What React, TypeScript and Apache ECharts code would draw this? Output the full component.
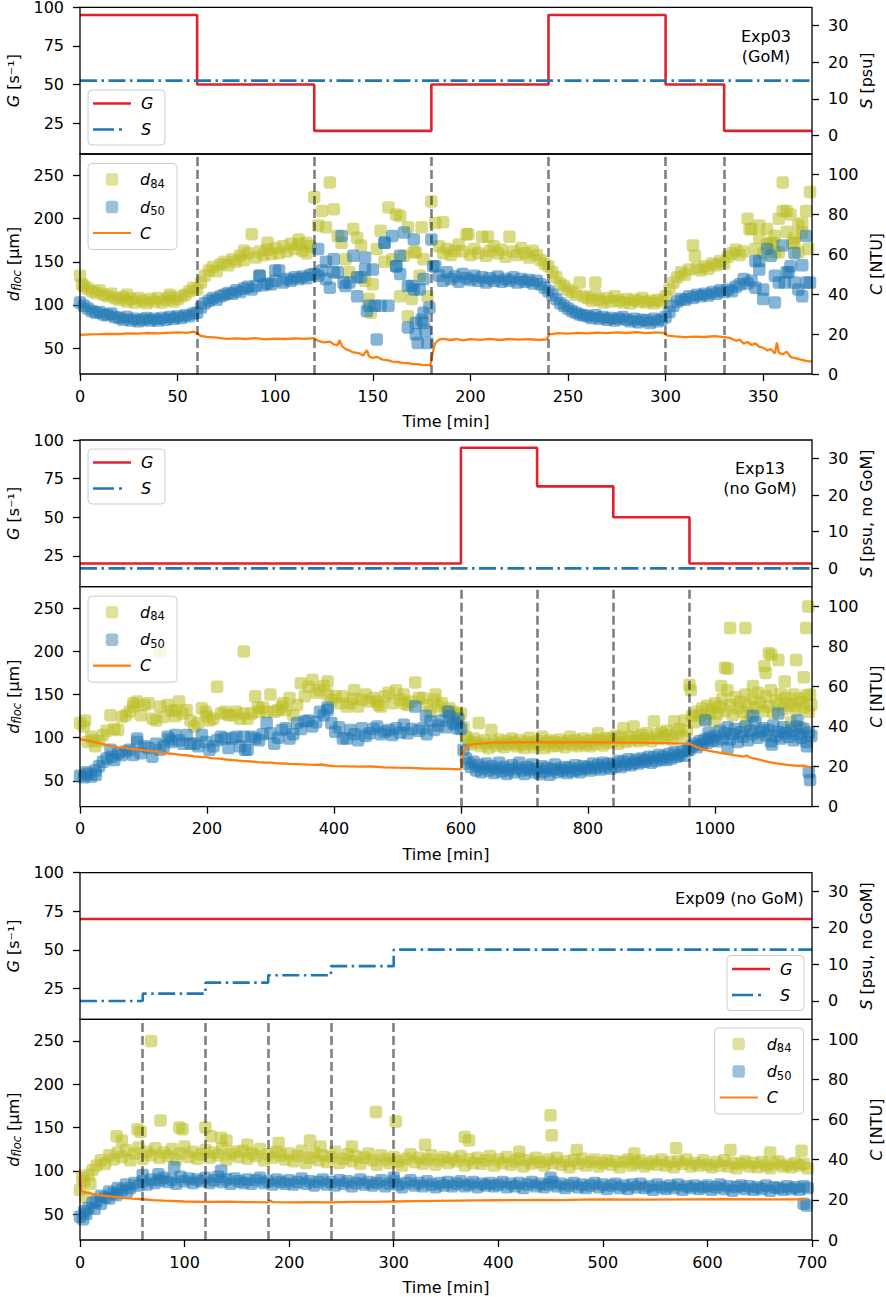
import React, { useEffect, useRef } from "react";
import * as echarts from "echarts";

const FONT = "DejaVu Sans";

// ---------------- Exp03 (GoM) ----------------
const exp03G: [number, number][] = [[0, 95], [60, 50], [120, 20], [180, 50], [240, 95], [300, 50], [330, 20], [375, 20]];
const exp03S: [number, number][] = [[0, 15], [375, 15]];
const exp03Start = 0;
const exp03Step = 2;
const exp03D84 = [
  134, 122, 119, 116, 114, 117, 112, 110, 113, 108,
  106, 109, 104, 107, 103, 108, 105, 102, 107, 104,
  108, 103, 106, 109, 104, 107, 110, 112, 116, 120,
  118, 126, 134, 140, 144, 139, 147, 150, 146, 153,
  150, 157, 152, 160, 182, 155, 162, 158, 164, 159,
  166, 160, 168, 162, 171, 165, 170, 163, 172, 168,
  225, 192, 209, 190, 242, 211, 180, 172, 153, 138,
  188, 178, 169, 128, 107, 124, 165, 186, 150, 213,
  153, 205, 110, 157, 190, 107, 161, 134, 153, 110,
  220, 195, 168, 160, 165, 158, 163, 170, 162, 182,
  158, 165, 160, 179, 157, 163, 168, 160, 164, 156,
  179, 162, 158, 166, 160, 155, 163, 158, 152, 148,
  145, 138, 132, 125, 122, 118, 115, 112, 126, 110,
  108, 105, 112, 106, 103, 108, 104, 110, 105, 103,
  107, 102, 106, 104, 108, 103, 105, 102, 106, 104,
  110, 118, 126, 132, 138, 135, 141, 169, 143, 140,
  145, 142, 148, 146, 151, 148, 156, 160, 164, 158,
  162, 200, 188, 165, 192, 160, 188, 172, 180, 161,
  242, 209, 205, 172, 192, 184, 209, 231,
];
const exp03D84Extra: [number, number][] = [
  [1, 124], [24, 112], [46, 112], [84, 163], [96, 172], [112, 176], [116, 160],
  [149, 91], [164, 203], [168, 87], [171, 161], [175, 190], [186, 196], [199, 182],
  [209, 179], [264, 126], [315, 157], [343, 188], [348, 178], [352, 170], [355, 172],
  [356, 161], [358, 200], [360, 209], [362, 185], [365, 172], [366, 178], [368, 161],
  [370, 195], [373, 165],
];
const exp03D50 = [
  103, 99, 96, 93, 91, 92, 89, 88, 90, 86,
  85, 83, 86, 82, 84, 81, 83, 85, 82, 84,
  82, 85, 83, 86, 84, 87, 85, 88, 87, 90,
  91, 97, 102, 105, 108, 106, 110, 112, 114, 113,
  117, 115, 119, 121, 118, 122, 134, 123, 125, 124,
  128, 140, 126, 130, 128, 132, 130, 133, 131, 135,
  136, 165, 140, 130, 120, 153, 138, 180, 122, 126,
  157, 110, 132, 155, 99, 141, 60, 99, 172, 99,
  180, 145, 157, 184, 74, 122, 66, 118, 79, 56,
  176, 145, 134, 128, 138, 130, 133, 127, 136, 131,
  129, 134, 128, 132, 126, 131, 128, 133, 127, 130,
  128, 132, 126, 130, 127, 129, 125, 128, 124, 120,
  116, 112, 107, 102, 99, 96, 93, 91, 89, 88,
  87, 85, 88, 84, 86, 83, 85, 82, 84, 86,
  83, 81, 84, 80, 83, 82, 79, 84, 81, 83,
  86, 92, 99, 104, 107, 106, 110, 108, 112, 110,
  113, 111, 115, 113, 117, 115, 118, 116, 121, 124,
  130, 125, 128, 151, 141, 118, 165, 157, 134, 126,
  169, 138, 145, 126, 118, 110, 180, 126,
];
const exp03D50Extra: [number, number][] = [
  [92, 134], [100, 140], [122, 134], [126, 150], [130, 138], [135, 126], [142, 132],
  [146, 141], [147, 93], [151, 99], [156, 172], [162, 145], [164, 136], [168, 122],
  [171, 118], [171, 176], [172, 79], [173, 56], [175, 83], [176, 130], [176, 91],
  [177, 70], [179, 97], [181, 145], [346, 120], [348, 151], [350, 107], [356, 103],
  [361, 126], [363, 138], [366, 160], [370, 146], [372, 126],
];
const exp03C: [number, number][] = [
  [0, 19.6], [5, 19.8], [10, 19.9], [15, 20.1], [20, 20.0], [25, 20.3], [30, 20.2], [35, 20.5],
  [40, 20.3], [45, 20.6], [50, 20.8], [55, 20.6], [58, 21.2], [60, 20.4], [62, 19.0], [65, 18.6],
  [70, 18.2], [75, 17.6], [80, 17.8], [85, 17.5], [90, 17.9], [95, 17.3], [100, 17.7], [105, 17.5],
  [110, 17.8], [115, 17.6], [120, 17.9], [122, 16.6], [125, 15.8], [128, 16.2], [130, 14.8],
  [132, 14.5], [133, 16.9], [134, 14.2], [136, 12.5], [138, 11.8], [140, 10.8], [143, 10.4],
  [145, 9.2], [147, 11.9], [148, 8.9], [150, 8.0], [152, 8.6], [155, 7.2], [158, 6.8], [160, 6.2],
  [163, 6.0], [165, 5.6], [168, 5.4], [170, 5.1], [173, 4.9], [175, 4.6], [178, 4.4], [179.5, 4.3],
  [180.5, 10], [182, 15.5], [184, 17.2], [186, 17.6], [190, 17.0], [193, 17.5], [196, 16.8],
  [200, 17.4], [205, 17.1], [210, 17.6], [215, 17.0], [220, 17.5], [225, 17.2], [230, 17.4],
  [235, 17.0], [239, 17.3], [240.5, 19.8], [245, 20.4], [250, 20.2], [255, 20.6], [260, 20.3],
  [265, 20.7], [270, 20.4], [275, 20.8], [280, 20.5], [285, 20.9], [290, 20.4], [295, 20.8],
  [299, 20.6], [301, 19.2], [305, 18.8], [310, 18.4], [315, 18.7], [320, 18.5], [325, 18.9],
  [330, 18.4], [333, 18.0], [336, 16.6], [338, 17.2], [340, 15.2], [342, 16.0], [344, 14.5],
  [346, 15.3], [348, 13.6], [350, 13.2], [352, 11.8], [354, 12.4], [356, 10.2], [357, 15.8],
  [358, 10.6], [360, 9.8], [362, 11.2], [364, 8.6], [366, 8.0], [368, 7.6], [370, 7.0],
  [372, 6.6], [375, 6.2],
];
const exp03Lines = [60, 120, 180, 240, 300, 330];
const exp03Ticks = [0, 50, 100, 150, 200, 250, 300, 350];

// ---------------- Exp13 (no GoM) ----------------
const exp13G: [number, number][] = [[0, 20], [600, 95], [720, 70], [840, 50], [960, 20], [1153, 20]];
const exp13S: [number, number][] = [[0, 0], [1153, 0]];
const exp13AStart = 0;
const exp13AStep = 6;
const exp13BStart = 600;
const exp13BStep = 4;
const exp13D84A = [
  117, 113, 95, 101, 90, 96, 103, 108, 126, 110,
  109, 124, 126, 130, 136, 142, 126, 138, 140, 122,
  120, 136, 124, 138, 131, 132, 142, 128, 132, 120,
  113, 117, 134, 130, 120, 122, 159, 128, 130, 126,
  126, 130, 122, 128, 122, 128, 148, 130, 135, 130,
  150, 130, 132, 136, 132, 146, 126, 138, 163, 148,
  159, 167, 152, 155, 160, 165, 144, 148, 140, 148,
  136, 140, 155, 136, 144, 150, 142, 146, 142, 136,
  148, 152, 140, 155, 144, 150, 138, 142, 164, 146,
  146, 138, 130, 144, 136, 140, 131, 134, 130, 127,
];
const exp13D84B = [
  128, 112, 101, 96, 92, 99, 94, 117, 90, 97,
  93, 88, 109, 95, 91, 98, 93, 89, 96, 92,
  99, 94, 90, 97, 92, 88, 95, 100, 93, 89,
  96, 92, 101, 88, 94, 97, 90, 95, 91, 98,
  93, 89, 96, 101, 92, 97, 90, 94, 99, 92,
  96, 90, 98, 93, 105, 97, 91, 99, 94, 100,
  96, 102, 93, 99, 111, 95, 101, 97, 113, 100,
  96, 103, 98, 105, 100, 96, 119, 104, 99, 106,
  101, 108, 103, 98, 119, 105, 110, 102, 120, 108,
  161, 125, 118, 130, 126, 134, 122, 137, 128, 133,
  140, 128, 136, 145, 131, 155, 138, 126, 147, 134,
  142, 130, 150, 137, 127, 145, 135, 152, 140, 131,
  148, 136, 155, 129, 143, 138, 151, 133, 146, 140,
  137, 150, 132, 145, 141, 135, 149, 130, 138,
];
const exp13D84Extra: [number, number][] = [
  [8, 120], [20, 97], [84, 140], [126, 200], [150, 125], [200, 125], [258, 200], [280, 135],
  [320, 140], [390, 150], [430, 145], [470, 138], [510, 140], [560, 150],
  [962, 155], [1000, 118], [1010, 160], [1016, 181], [1020, 180], [1024, 227], [1048, 227],
  [1050, 118], [1060, 160], [1078, 183], [1080, 175], [1085, 198], [1089, 196], [1100, 190],
  [1110, 165], [1120, 118], [1128, 190], [1135, 112], [1140, 170], [1144, 227], [1147, 252],
  [1150, 150],
];
const exp13D50A = [
  56, 54, 58, 55, 62, 67, 72, 76, 86, 74,
  82, 80, 84, 86, 80, 99, 82, 90, 88, 78,
  93, 86, 90, 101, 95, 103, 97, 93, 103, 93,
  93, 90, 103, 95, 86, 90, 97, 101, 99, 88,
  99, 101, 90, 101, 86, 101, 99, 97, 104, 117,
  105, 93, 100, 109, 111, 99, 104, 117, 110, 119,
  120, 113, 118, 130, 126, 132, 117, 107, 112, 99,
  99, 109, 104, 97, 111, 102, 105, 110, 113, 104,
  107, 109, 103, 111, 106, 115, 105, 110, 136, 108,
  111, 104, 119, 109, 114, 120, 112, 125, 116, 111,
];
const exp13D50B = [
  110, 86, 76, 70, 66, 72, 62, 68, 60, 65,
  70, 62, 67, 59, 64, 71, 61, 66, 58, 63,
  68, 60, 65, 71, 62, 58, 66, 63, 69, 60,
  64, 58, 67, 61, 65, 57, 63, 69, 60, 64,
  62, 66, 59, 65, 61, 68, 63, 60, 67, 64,
  66, 62, 70, 65, 68, 63, 71, 66, 69, 64,
  70, 67, 73, 66, 72, 69, 75, 68, 71, 74,
  70, 76, 72, 74, 78, 71, 77, 73, 80, 75,
  78, 74, 81, 76, 83, 78, 80, 84, 79, 85,
  86, 90, 93, 89, 96, 92, 98, 94, 100, 97,
  102, 96, 108, 99, 105, 112, 98, 104, 110, 95,
  106, 101, 113, 97, 108, 104, 118, 100, 107, 111,
  103, 109, 96, 114, 102, 107, 99, 112, 105, 101,
  108, 97, 113, 104, 100, 110, 95, 106, 102,
];
const exp13D50Extra: [number, number][] = [
  [10, 60], [25, 57], [50, 78], [90, 95], [140, 98], [260, 86], [390, 135], [545, 125],
  [580, 130], [590, 118], [596, 122], [985, 120], [990, 105], [1020, 88], [1060, 125],
  [1090, 92], [1100, 128], [1130, 120], [1145, 90], [1148, 60], [1150, 51],
];
const exp13C: [number, number][] = [
  [0, 33.8], [10, 33.2], [20, 32.5], [30, 31.8], [40, 31.0], [50, 30.3], [60, 29.8], [70, 29.5],
  [80, 28.9], [90, 28.6], [100, 28.3], [110, 27.8], [120, 27.6], [130, 27.0], [140, 26.6],
  [150, 26.3], [160, 25.9], [170, 25.6], [180, 25.2], [190, 24.9], [200, 24.7], [210, 24.2],
  [220, 24.0], [230, 23.6], [240, 23.3], [250, 23.0], [260, 22.8], [270, 22.6], [280, 22.3],
  [290, 22.1], [300, 22.0], [310, 21.7], [320, 21.6], [330, 21.4], [340, 21.3], [350, 21.2],
  [360, 21.0], [370, 20.9], [380, 21.1], [390, 20.6], [400, 20.3], [420, 20.2], [440, 20.0],
  [460, 20.1], [480, 19.7], [500, 19.5], [520, 19.4], [540, 19.1], [560, 19.0], [580, 18.9],
  [600, 18.7], [602, 22], [604, 27.5], [608, 29.8], [612, 30.8], [620, 31.3], [635, 31.7],
  [650, 32.0], [680, 32.2], [720, 32.3], [760, 32.1], [800, 32.3], [840, 32.1], [880, 32.0],
  [920, 31.8], [955, 31.5], [962, 31.2], [970, 30.0], [980, 28.8], [990, 28.0], [1000, 27.4],
  [1015, 26.6], [1030, 25.8], [1045, 25.0], [1050, 25.6], [1055, 24.6], [1070, 23.5],
  [1085, 22.3], [1100, 21.5], [1115, 20.9], [1130, 20.4], [1140, 20.6], [1152, 19.6],
];
const exp13Lines = [600, 720, 840, 960];
const exp13Ticks = [0, 200, 400, 600, 800, 1000];

// ---------------- Exp09 (no GoM) ----------------
const exp09G: [number, number][] = [[0, 70], [700, 70]];
const exp09S: [number, number][] = [[0, 0], [60, 2], [120, 5], [180, 7], [240, 9.5], [300, 14], [700, 14]];
const exp09Start = 0;
const exp09Step = 4;
const exp09D84 = [
  78, 88, 95, 101, 106, 112, 108, 118, 113, 121,
  116, 124, 112, 120, 127, 114, 122, 118, 126, 115,
  121, 117, 125, 113, 120, 128, 116, 122, 114, 119,
  124, 115, 121, 118, 126, 113, 119, 122, 116, 123,
  114, 120, 117, 125, 112, 119, 115, 122, 118, 113,
  120, 111, 117, 123, 109, 115, 121, 112, 118, 110,
  116, 122, 109, 114, 119, 111, 117, 108, 115, 120,
  112, 107, 118, 113, 109, 116, 111, 106, 114, 119,
  110, 115, 108, 113, 118, 107, 112, 116, 109, 114,
  111, 117, 106, 113, 109, 115, 108, 112, 117, 106,
  113, 109, 116, 107, 111, 114, 105, 112, 108, 115,
  110, 106, 113, 109, 115, 107, 111, 104, 112, 108,
  114, 106, 110, 113, 105, 109, 112, 107, 111, 104,
  110, 113, 106, 109, 112, 105, 108, 111, 107, 113,
  106, 110, 104, 111, 108, 113, 105, 109, 106, 112,
  107, 104, 110, 106, 112, 105, 109, 103, 108, 111,
  105, 109, 104, 110, 106, 103, 108, 111, 105, 107,
  104, 109, 106, 108, 103,
];
const exp09D84Extra: [number, number][] = [
  [2, 92], [5, 70], [10, 85], [35, 140], [40, 135], [55, 148], [58, 145], [68, 250], [77, 158],
  [95, 150], [98, 148], [120, 150], [125, 140], [135, 138], [140, 135], [160, 130], [190, 132],
  [220, 135], [230, 128], [260, 128], [283, 168], [302, 157], [330, 130], [368, 139], [372, 135],
  [420, 122], [450, 164], [451, 141], [475, 124], [530, 120], [570, 126], [622, 124], [660, 121],
  [690, 123],
];
const exp09D50 = [
  47, 53, 57, 63, 65, 71, 69, 76, 74, 80,
  78, 84, 80, 86, 83, 88, 84, 90, 86, 89,
  92, 87, 90, 85, 93, 88, 91, 86, 90, 88,
  92, 86, 89, 93, 87, 90, 85, 91, 88, 86,
  90, 85, 89, 92, 86, 88, 84, 90, 87, 85,
  89, 84, 87, 91, 85, 88, 83, 87, 90, 84,
  87, 83, 89, 85, 88, 82, 86, 90, 84, 87,
  83, 86, 89, 82, 85, 88, 84, 81, 86, 89,
  83, 86, 82, 88, 84, 81, 86, 83, 87, 82,
  85, 88, 82, 84, 87, 81, 85, 83, 86, 82,
  84, 87, 81, 85, 82, 86, 80, 84, 87, 82,
  85, 81, 84, 87, 82, 85, 80, 83, 86, 81,
  84, 80, 83, 86, 81, 84, 79, 83, 85, 80,
  83, 79, 84, 81, 85, 80, 82, 78, 84, 81,
  79, 83, 80, 84, 78, 82, 80, 83, 79, 81,
  83, 78, 81, 84, 79, 82, 77, 81, 83, 79,
  82, 78, 81, 79, 83, 77, 81, 80, 78, 82,
  79, 81, 78, 82, 80,
];
const exp09D50Extra: [number, number][] = [
  [3, 44], [6, 50], [14, 56], [20, 62], [28, 68], [35, 72], [45, 76], [60, 95], [75, 96],
  [90, 104], [135, 100], [300, 92], [450, 92], [692, 62], [695, 60],
];
const exp09C: [number, number][] = [
  [0, 35], [0.8, 27], [1.5, 24.5], [3, 24], [6, 23.6], [10, 23.2], [15, 22.7], [20, 22.2],
  [30, 21.6], [40, 21.0], [50, 20.6], [60, 20.3], [70, 19.9], [80, 19.6], [100, 19.2],
  [120, 19.0], [140, 19.1], [160, 18.9], [180, 18.8], [182, 19.8], [184, 18.9], [200, 18.8],
  [220, 18.9], [240, 18.8], [260, 19.0], [280, 19.0], [300, 19.2], [320, 19.4], [340, 19.5],
  [360, 19.6], [380, 19.7], [400, 19.8], [420, 19.9], [440, 20.0], [460, 19.9], [480, 20.1],
  [500, 20.2], [540, 20.1], [580, 20.2], [620, 20.3], [660, 20.2], [695, 20.2],
];
const exp09Lines = [60, 120, 180, 240, 300];
const exp09Ticks = [0, 100, 200, 300, 400, 500, 600, 700];

// axis tick labels
const gTicks = [25, 50, 75, 100];
const sTicks = [0, 10, 20, 30];
const dTicks = [50, 100, 150, 200, 250];
const cTicks = [0, 20, 40, 60, 80, 100];

// ---------------- helpers ----------------
const reg = (start: number, step: number, vals: number[]): [number, number][] =>
  vals.map((v, i) => [start + i * step, v]);

const RED = "#e0202a";
const BLUE = "#1f77b4";
const OLIVE = "#bcbd22";
const ORANGE = "#ff7f0e";
const MSIZE = 12.5;
const MALPHA = 0.55;

const L = 80;
const W = 732;
const P = [
  { top: 7.3, h: 146.7 },
  { top: 154, h: 220 },
  { top: 440, h: 146.7 },
  { top: 586.7, h: 220 },
  { top: 872.7, h: 146.6 },
  { top: 1019.3, h: 220.7 },
];

const richBase = {
  i: { fontSize: 16, fontFamily: FONT, fill: "#000", fontStyle: "italic", lineHeight: 20 },
  n: { fontSize: 16, fontFamily: FONT, fill: "#000", lineHeight: 20 },
  s: { fontSize: 11.5, fontFamily: FONT, fill: "#000", lineHeight: 12, verticalAlign: "bottom" },
  si: { fontSize: 11.5, fontFamily: FONT, fill: "#000", fontStyle: "italic", lineHeight: 12, verticalAlign: "bottom" },
};

function richText(x: number, y: number, text: string, opts: any = {}) {
  return {
    type: "text",
    x,
    y,
    rotation: opts.rotation || 0,
    z: 120,
    silent: true,
    style: {
      text,
      rich: richBase,
      fontSize: 16,
      fontFamily: FONT,
      fill: "#000",
      align: opts.align || "center",
      verticalAlign: "middle",
      lineHeight: opts.lineHeight || 20,
    },
  };
}

function gsLegend(x: number, y: number) {
  return [
    { type: "rect", z: 110, silent: true, shape: { x, y, width: 77, height: 55, r: 4 }, style: { fill: "rgba(255,255,255,0.8)", stroke: "#cccccc", lineWidth: 1 } },
    { type: "line", z: 111, silent: true, shape: { x1: x + 5, y1: y + 13.5, x2: x + 43, y2: y + 13.5 }, style: { stroke: RED, lineWidth: 2.5 } },
    { type: "line", z: 111, silent: true, shape: { x1: x + 5, y1: y + 39.5, x2: x + 43, y2: y + 39.5 }, style: { stroke: BLUE, lineWidth: 2.5, lineDash: [21, 5, 3, 60] } },
    richText(x + 53, y + 13.5, "{i|G}", { align: "left" }),
    richText(x + 53, y + 39.5, "{i|S}", { align: "left" }),
  ];
}

function dLegend(x: number, y: number) {
  const hs = MSIZE / 2;
  return [
    { type: "rect", z: 110, silent: true, shape: { x, y, width: 89, height: 86, r: 4 }, style: { fill: "rgba(255,255,255,0.8)", stroke: "#cccccc", lineWidth: 1 } },
    { type: "rect", z: 111, silent: true, shape: { x: x + 24 - hs, y: y + 16 - hs, width: MSIZE, height: MSIZE, r: 3 }, style: { fill: OLIVE, opacity: 0.45 } },
    { type: "rect", z: 111, silent: true, shape: { x: x + 24 - hs, y: y + 43.5 - hs, width: MSIZE, height: MSIZE, r: 3 }, style: { fill: BLUE, opacity: 0.45 } },
    { type: "line", z: 111, silent: true, shape: { x1: x + 5, y1: y + 69.5, x2: x + 43, y2: y + 69.5 }, style: { stroke: ORANGE, lineWidth: 2.2 } },
    richText(x + 52, y + 16, "{i|d}{s|84}", { align: "left" }),
    richText(x + 52, y + 43.5, "{i|d}{s|50}", { align: "left" }),
    richText(x + 52, y + 69.5, "{i|C}", { align: "left" }),
  ];
}

function buildOption() {
  const exps = [
    {
      xmax: 375, ticks: exp03Ticks, G: exp03G, S: exp03S, lines: exp03Lines, C: exp03C,
      d84: reg(exp03Start, exp03Step, exp03D84).concat(exp03D84Extra),
      d50: reg(exp03Start, exp03Step, exp03D50).concat(exp03D50Extra),
    },
    {
      xmax: 1153, ticks: exp13Ticks, G: exp13G, S: exp13S, lines: exp13Lines, C: exp13C,
      d84: reg(exp13AStart, exp13AStep, exp13D84A).concat(reg(exp13BStart, exp13BStep, exp13D84B), exp13D84Extra),
      d50: reg(exp13AStart, exp13AStep, exp13D50A).concat(reg(exp13BStart, exp13BStep, exp13D50B), exp13D50Extra),
    },
    {
      xmax: 700, ticks: exp09Ticks, G: exp09G, S: exp09S, lines: exp09Lines, C: exp09C,
      d84: reg(exp09Start, exp09Step, exp09D84).concat(exp09D84Extra),
      d50: reg(exp09Start, exp09Step, exp09D50).concat(exp09D50Extra),
    },
  ];

  const tick = (vals: number[]) => ({ show: true, length: 7, lineStyle: { color: "#000", width: 1.3 }, customValues: vals });
  const label = (vals: number[], margin: number) => ({
    show: true, fontSize: 16, color: "#000", fontFamily: FONT, margin, lineHeight: 14,
    customValues: vals, formatter: (v: number) => String(v),
  });

  const grid = P.map((p) => ({ left: L, width: W, top: p.top, height: p.h, containLabel: false, outerBoundsMode: "none" }));

  const xAxis: any[] = [];
  const yAxis: any[] = [];
  const series: any[] = [];

  exps.forEach((e, k) => {
    const gTop = 2 * k;
    const gBot = 2 * k + 1;
    xAxis.push({ type: "value", gridIndex: gTop, min: 0, max: e.xmax, axisLine: { show: false }, axisTick: { show: false }, axisLabel: { show: false }, splitLine: { show: false } });
    xAxis.push({ type: "value", gridIndex: gBot, min: 0, max: e.xmax, axisLine: { show: false }, axisTick: tick(e.ticks), axisLabel: label(e.ticks, 15), splitLine: { show: false } });
    yAxis.push({ type: "value", gridIndex: gTop, position: "left", min: 5, max: 100, axisLine: { show: false }, axisTick: tick(gTicks), axisLabel: label(gTicks, 16), splitLine: { show: false } });
    yAxis.push({ type: "value", gridIndex: gTop, position: "right", min: -5, max: 35, axisLine: { show: false }, axisTick: tick(sTicks), axisLabel: label(sTicks, 16), splitLine: { show: false } });
    yAxis.push({ type: "value", gridIndex: gBot, position: "left", min: 20, max: 275, axisLine: { show: false }, axisTick: tick(dTicks), axisLabel: label(dTicks, 16), splitLine: { show: false } });
    yAxis.push({ type: "value", gridIndex: gBot, position: "right", min: 0, max: 110, axisLine: { show: false }, axisTick: tick(cTicks), axisLabel: label(cTicks, 16), splitLine: { show: false } });

    const yb = 4 * k;
    series.push({ type: "line", xAxisIndex: gTop, yAxisIndex: yb, data: e.G, step: "end", showSymbol: false, symbol: "none", lineStyle: { color: RED, width: 2.6 }, z: 3, silent: true });
    series.push({ type: "line", xAxisIndex: gTop, yAxisIndex: yb + 1, data: e.S, step: "end", showSymbol: false, symbol: "none", lineStyle: { color: BLUE, width: 2.6, type: [17, 4.5, 2.5, 4.5] }, z: 3, silent: true });
    series.push({ type: "scatter", xAxisIndex: gBot, yAxisIndex: yb + 2, data: e.d84, symbol: "roundRect", symbolSize: MSIZE, itemStyle: { color: OLIVE, opacity: MALPHA }, z: 2, silent: true });
    series.push({ type: "scatter", xAxisIndex: gBot, yAxisIndex: yb + 2, data: e.d50, symbol: "roundRect", symbolSize: MSIZE, itemStyle: { color: BLUE, opacity: MALPHA }, z: 2, silent: true });
    series.push({
      type: "line", xAxisIndex: gBot, yAxisIndex: yb + 2, data: [], z: 3, silent: true,
      markLine: {
        silent: true, symbol: ["none", "none"], label: { show: false }, animation: false,
        lineStyle: { color: "rgba(0,0,0,0.5)", width: 2.6, type: [9, 4] },
        emphasis: { disabled: true },
        data: e.lines.map((x) => ({ xAxis: x })),
      },
    });
    series.push({ type: "line", xAxisIndex: gBot, yAxisIndex: yb + 3, data: e.C, showSymbol: false, symbol: "none", lineStyle: { color: ORANGE, width: 2.3 }, z: 4, silent: true });
  });

  const graphics: any[] = [];
  // frames
  P.forEach((p) => {
    graphics.push({ type: "rect", z: 100, silent: true, shape: { x: L, y: p.top, width: W, height: p.h }, style: { fill: "none", stroke: "#000", lineWidth: 1.3 } });
  });
  // axis titles
  const rightTitles = ["{i|S}{n| [psu]}", "{i|S}{n| [psu, no GoM]}", "{i|S}{n| [psu, no GoM]}"];
  [0, 1, 2].forEach((k) => {
    const pt = P[2 * k];
    const pb = P[2 * k + 1];
    const mt = pt.top + pt.h / 2;
    const mb = pb.top + pb.h / 2;
    graphics.push(richText(13, mt, "{i|G}{n| [s⁻¹]}", { rotation: Math.PI / 2 }));
    graphics.push(richText(13, mb, "{i|d}{si|floc}{n| [µm]}", { rotation: Math.PI / 2 }));
    graphics.push(richText(866, mt, rightTitles[k], { rotation: Math.PI / 2 }));
    graphics.push(richText(876, mb, "{i|C}{n| [NTU]}", { rotation: Math.PI / 2 }));
    graphics.push(richText(L + W / 2, pb.top + pb.h + 47.5, "{n|Time [min]}"));
  });
  // annotations
  graphics.push(richText(766, 46.7, "{n|Exp03}\n{n|(GoM)}", { lineHeight: 20 }));
  graphics.push(richText(760, 478.7, "{n|Exp13}\n{n|(no GoM)}", { lineHeight: 20 }));
  graphics.push(richText(803.7, 898.3, "{n|Exp09 (no GoM)}", { align: "right" }));
  // legends
  graphics.push(...gsLegend(88, 90));
  graphics.push(...dLegend(88, 163.5));
  graphics.push(...gsLegend(88, 449));
  graphics.push(...dLegend(88, 596.2));
  graphics.push(...gsLegend(727, 955.5));
  graphics.push(...dLegend(714.7, 1028));

  return {
    animation: false,
    textStyle: { fontFamily: FONT },
    grid,
    xAxis,
    yAxis,
    series,
    graphic: { elements: graphics },
  };
}

export default function App() {
  const ref = useRef<HTMLDivElement>(null);
  useEffect(() => {
    document.body.style.margin = "0";
    if (!ref.current) return;
    const chart = echarts.init(ref.current, null, { renderer: "svg" });
    chart.setOption(buildOption() as any);
    return () => chart.dispose();
  }, []);
  return <div ref={ref} style={{ width: 886, height: 1297 }} />;
}
